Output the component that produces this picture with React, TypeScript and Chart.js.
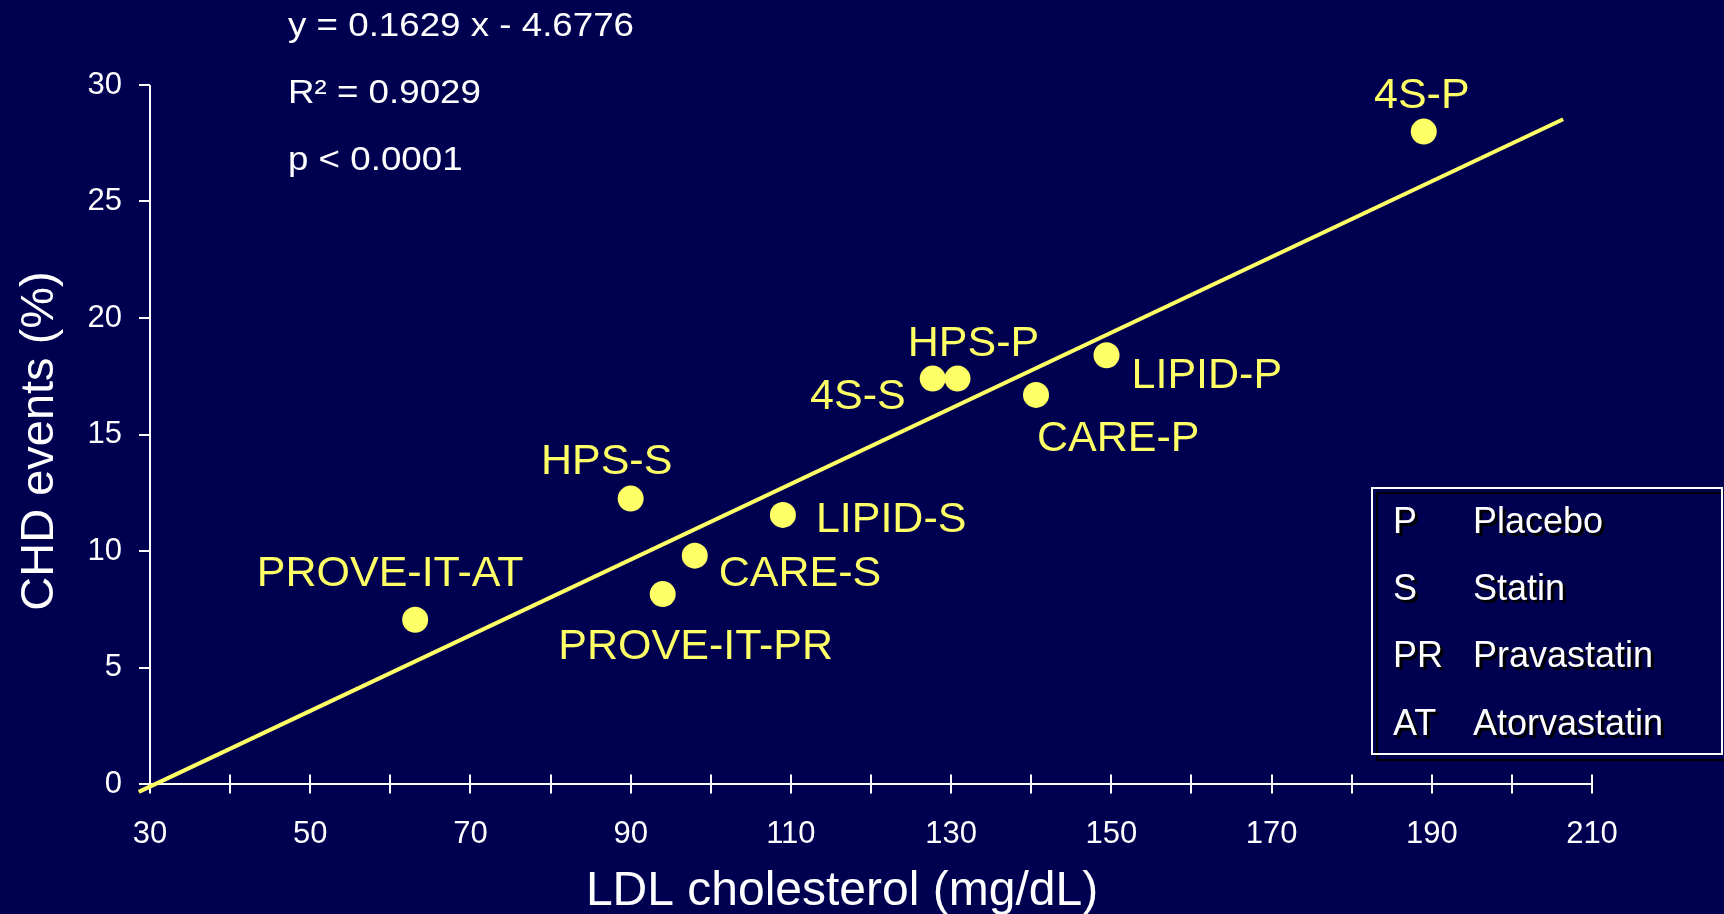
import React, { useEffect, useRef } from 'react';
import { Chart, registerables } from 'chart.js';

Chart.register(...registerables);

const FONT = '"Liberation Sans", Arial, Helvetica, sans-serif';
const BG = '#000050';
const YELLOW = '#FFFF66';
const WHITE = '#FFFFFF';

// ---- data ----
const studyNames = ['4S-P', 'HPS-P', '4S-S', 'LIPID-P', 'CARE-P', 'HPS-S', 'LIPID-S', 'CARE-S', 'PROVE-IT-PR', 'PROVE-IT-AT'];
const ldlValues = [189.0, 130.8, 127.7, 149.4, 140.6, 90.0, 109.0, 98.0, 94.0, 63.1];
const chdValues = [28.0, 17.4, 17.4, 18.4, 16.7, 12.25, 11.55, 9.8, 8.15, 7.05];

const fitLineX = [28.6, 206.4];
const fitLineY = [-0.34, 28.53];

const xTickLabels = [30, 50, 70, 90, 110, 130, 150, 170, 190, 210];
const yTickLabels = [0, 5, 10, 15, 20, 25, 30];

const statsLines = ['y = 0.1629 x - 4.6776', 'R\u00B2 = 0.9029', 'p < 0.0001'];
const legendCodes = ['P', 'S', 'PR', 'AT'];
const legendMeanings = ['Placebo', 'Statin', 'Pravastatin', 'Atorvastatin'];

const xTitle = 'LDL cholesterol (mg/dL)';
const yTitle = 'CHD events (%)';

// label placement relative to each point (pixels): align, dx, baseline dy
const labelPlacement: Record<string, { align: CanvasTextAlign; dx: number; dy: number }> = {
  '4S-P': { align: 'center', dx: -2, dy: -24 },
  'HPS-P': { align: 'center', dx: 16, dy: -23 },
  '4S-S': { align: 'right', dx: -27, dy: 30 },
  'LIPID-P': { align: 'left', dx: 25, dy: 33 },
  'CARE-P': { align: 'left', dx: 1, dy: 56 },
  'HPS-S': { align: 'center', dx: -24, dy: -25 },
  'LIPID-S': { align: 'left', dx: 33, dy: 17 },
  'CARE-S': { align: 'left', dx: 24, dy: 30 },
  'PROVE-IT-PR': { align: 'center', dx: 33, dy: 65 },
  'PROVE-IT-AT': { align: 'center', dx: -25, dy: -34 },
};

export default function App() {
  const ref = useRef<HTMLCanvasElement>(null);

  useEffect(() => {
    const canvas = ref.current;
    if (!canvas) return;

    const decorPlugin = {
      id: 'decor',
      beforeDraw(chart: any) {
        const ctx = chart.ctx;
        ctx.save();
        ctx.fillStyle = BG;
        ctx.fillRect(0, 0, chart.width, chart.height);
        ctx.restore();
      },
      beforeDatasetsDraw(chart: any) {
        const ctx = chart.ctx;
        const xs = chart.scales.x;
        const ys = chart.scales.y;
        const x0 = Math.round(xs.getPixelForValue(xs.min));
        const x1 = Math.round(xs.getPixelForValue(xs.max));
        const yb = Math.round(ys.getPixelForValue(ys.min));
        const yt = Math.round(ys.getPixelForValue(ys.max));
        ctx.save();
        ctx.strokeStyle = WHITE;
        ctx.lineWidth = 2;
        ctx.beginPath();
        ctx.moveTo(x0, yb);
        ctx.lineTo(x0, yt);
        ys.ticks.forEach((t: any) => {
          const py = Math.round(ys.getPixelForValue(t.value));
          ctx.moveTo(x0 - 11, py);
          ctx.lineTo(x0, py);
        });
        ctx.moveTo(x0 - 11, yb);
        ctx.lineTo(x1 + 1, yb);
        xs.ticks.forEach((t: any) => {
          const px = Math.round(xs.getPixelForValue(t.value));
          ctx.moveTo(px, yb - 9.5);
          ctx.lineTo(px, yb + 9.5);
        });
        ctx.stroke();
        ctx.restore();
      },
      afterDraw(chart: any) {
        const ctx = chart.ctx;
        ctx.save();
        const meta = chart.getDatasetMeta(0);
        ctx.fillStyle = YELLOW;
        ctx.font = `43px ${FONT}`;
        ctx.textBaseline = 'alphabetic';
        meta.data.forEach((el: any, i: number) => {
          const name = studyNames[i];
          const p = labelPlacement[name];
          ctx.textAlign = p.align;
          ctx.fillText(name, el.x + p.dx, el.y + p.dy);
        });

        ctx.fillStyle = WHITE;
        ctx.font = `34px ${FONT}`;
        ctx.textAlign = 'left';
        const statBase = [36, 103, 170];
        statsLines.forEach((s, i) => {
          ctx.save();
          ctx.translate(288, statBase[i]);
          ctx.scale(1.08, 1);
          ctx.fillText(s, 0, 0);
          ctx.restore();
        });

        ctx.font = `48px ${FONT}`;
        ctx.textAlign = 'center';
        ctx.fillText(xTitle, 842, 905);
        ctx.save();
        ctx.translate(53, 441);
        ctx.rotate(-Math.PI / 2);
        ctx.font = `47px ${FONT}`;
        ctx.fillText(yTitle, 0, 0);
        ctx.restore();

        ctx.lineWidth = 2;
        ctx.strokeStyle = '#000000';
        ctx.strokeRect(1377, 493, 352, 267);
        ctx.strokeStyle = WHITE;
        ctx.strokeRect(1372, 488, 350, 266);
        ctx.font = `36px ${FONT}`;
        ctx.textAlign = 'left';
        const legBase = [533, 600, 667, 735];
        legendCodes.forEach((c, i) => {
          ctx.fillStyle = '#000000';
          ctx.fillText(c, 1393 + 3, legBase[i] + 3);
          ctx.fillText(legendMeanings[i], 1473 + 3, legBase[i] + 3);
          ctx.fillStyle = WHITE;
          ctx.fillText(c, 1393, legBase[i]);
          ctx.fillText(legendMeanings[i], 1473, legBase[i]);
        });
        ctx.restore();
      },
    };

    const chart = new Chart(canvas, {
      type: 'scatter',
      data: {
        datasets: [
          {
            label: 'Studies',
            data: ldlValues.map((x, i) => ({ x, y: chdValues[i] })),
            backgroundColor: YELLOW,
            borderWidth: 0,
            pointRadius: 13,
            pointHoverRadius: 13,
            showLine: false,
            order: 0,
          },
          {
            label: 'Fit',
            data: fitLineX.map((x, i) => ({ x, y: fitLineY[i] })),
            borderColor: YELLOW,
            borderWidth: 4,
            pointRadius: 0,
            showLine: true,
            clip: false as any,
            order: 1,
          },
        ],
      },
      options: {
        responsive: false,
        animation: false,
        events: [],
        layout: { padding: { left: 0, top: 85, right: 132, bottom: 0 } },
        plugins: { legend: { display: false }, tooltip: { enabled: false }, title: { display: false } },
        scales: {
          x: {
            type: 'linear',
            position: 'bottom',
            min: 30,
            max: 210,
            grid: { display: false },
            border: { display: false },
            ticks: {
              stepSize: 10,
              autoSkip: false,
              maxRotation: 0,
              padding: 24,
              color: WHITE,
              font: { family: FONT, size: 31 },
              callback: (v: any) => (xTickLabels.includes(Number(v)) ? String(v) : ''),
            },
            afterFit: (s: any) => { s.height = 130; },
          },
          y: {
            type: 'linear',
            min: 0,
            max: 30,
            grid: { display: false },
            border: { display: false },
            ticks: {
              stepSize: 5,
              autoSkip: false,
              padding: 20,
              color: WHITE,
              font: { family: FONT, size: 31 },
              callback: (v: any) => (yTickLabels.includes(Number(v)) ? String(v) : ''),
            },
            afterFit: (s: any) => { s.width = 150; },
          },
        },
      },
      plugins: [decorPlugin],
    } as any);

    return () => chart.destroy();
  }, []);

  return (
    <div style={{ position: 'fixed', left: 0, top: 0, width: 1724, height: 914, background: BG }}>
      <canvas ref={ref} width={1724} height={914} style={{ display: 'block', width: 1724, height: 914 }} />
    </div>
  );
}
